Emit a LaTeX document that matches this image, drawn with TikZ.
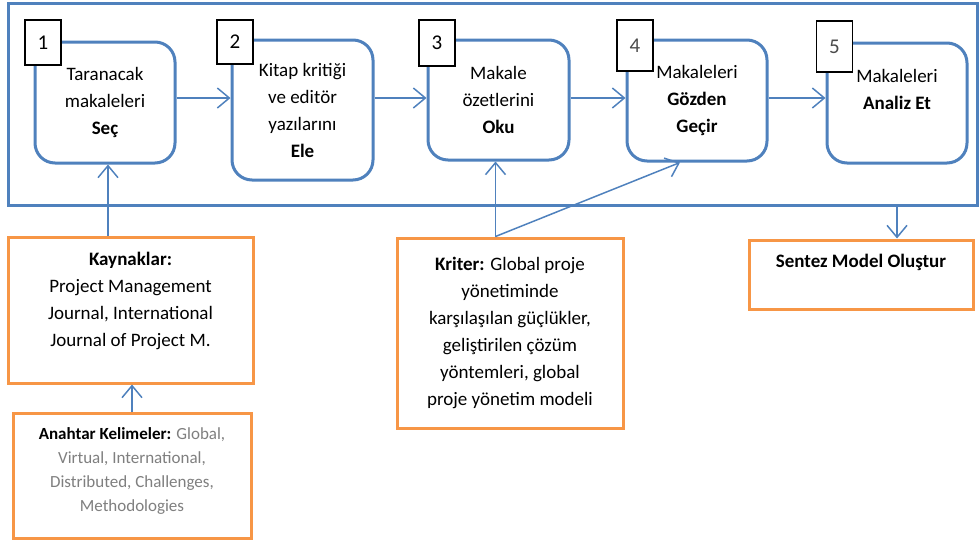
\documentclass[tikz,border=0pt]{standalone}
\usepackage{fontspec}
\setmainfont{Carlito}
\usetikzlibrary{arrows.meta}
\definecolor{adimmavi}{HTML}{4F81BD}
\definecolor{kututuruncu}{HTML}{F79646}
\definecolor{kelimegri}{HTML}{7F7F7F}

\begin{document}
\begin{tikzpicture}[x=0.5pt,y=-0.5pt,>={Straight Barb[length=6pt,width=10pt]},
		font=\fontsize{9.5}{13.5}\selectfont,
		adim/.style={draw=adimmavi,line width=1.5pt,rounded corners=10pt,fill=white,align=center,inner sep=2pt},
		sira/.style={draw=black,line width=0.6pt,fill=white,minimum width=18pt,inner sep=0pt,font=\fontsize{10.5}{12}\selectfont},
		kutu/.style={draw=kututuruncu,line width=1.5pt,fill=white,align=center,inner sep=2pt},
		ok/.style={->,draw=adimmavi,line width=0.75pt}]
	\useasboundingbox (0,0) rectangle (979,541);
	% mavi cerceve ve adimlar
	\node[draw=adimmavi,line width=1.5pt,minimum width=484.5pt,minimum height=101pt] (cerceve) at (492.5,104) {};
	\node[adim,minimum width=70pt,minimum height=60.5pt] (a1) at (105,102.5) {Taranacak\\makaleleri\\\textbf{Seç}};
	\node[adim,minimum width=70.5pt,minimum height=70pt] (a2) at (302.5,110) {Kitap kritiği\\ve editör\\yazılarını\\\textbf{Ele}};
	\node[adim,minimum width=70.5pt,minimum height=60pt] (a3) at (498.5,100) {Makale\\özetlerini\\\textbf{Oku}};
	\node[adim,minimum width=70pt,minimum height=60.5pt] (a4) at (697,100.5) {Makaleleri\\\textbf{Gözden}\\\textbf{Geçir}};
	\node[adim,minimum width=70pt,minimum height=60pt] (a5) at (897,103) {Makaleleri\\\textbf{Analiz Et}\\\mbox{}};
	\node[sira,minimum height=22.5pt] (n1) at (43,42.5) {1};
	\node[sira,minimum height=22pt] (n2) at (235,42) {2};
	\node[sira,minimum height=23pt] (n3) at (437,43) {3};
	\node[sira,minimum height=25.5pt,text=black!70] (n4) at (635,45.5) {4};
	\node[sira,minimum height=25.5pt,text=black!70] (n5) at (834.5,46.5) {5};
	% turuncu kutular
	\node[kutu,minimum width=122.5pt,minimum height=73pt] (kaynak) at (130.5,310) {\textbf{Kaynaklar:}\\Project Management\\Journal, International\\Journal of Project M.\\[-2.5pt]\mbox{}};
	\node[kutu,minimum width=119pt,minimum height=62.5pt,font=\fontsize{8.5}{12}\selectfont] (anahtar) at (132,475.5)
		{\textbf{Anahtar Kelimeler:} \textcolor{kelimegri}{Global,}\\\textcolor{kelimegri}{Virtual, International,}\\\textcolor{kelimegri}{Distributed, Challenges,}\\\textcolor{kelimegri}{Methodologies}\\[-6pt]\mbox{}};
	\node[kutu,minimum width=113pt,minimum height=95pt] (kriter) at (510,333) {\textbf{Kriter:} Global proje\\yönetiminde\\karşılaşılan güçlükler,\\geliştirilen çözüm\\yöntemleri, global\\proje yönetim modeli};
	\node[kutu,minimum width=112pt,minimum height=34.5pt] (sentez) at (861,274.5) {\textbf{Sentez Model Oluştur}\\\mbox{}};
	% oklar
	\coordinate (okhiza) at (0,98);
	\foreach \i/\j in {1/2,2/3,3/4,4/5}
		\draw[ok] (a\i.east |- okhiza) -- (a\j.west |- okhiza);
	\draw[ok] ([xshift=1.5pt]a1.south |- kaynak.north) -- ([xshift=1.5pt]a1.south);
	\draw[ok] (anahtar.north) -- (anahtar.north |- kaynak.south);
	\coordinate (kriterust) at ([xshift=-1.5pt]a3.south |- kriter.north);
	\draw[ok] (kriterust) -- (kriterust |- a3.south);
	\draw[ok] (kriterust) -- ([xshift=-8.5pt]a4.south);
	\draw[ok] (a5.south |- cerceve.south) -- (a5.south |- sentez.north);
\end{tikzpicture}
\end{document}
